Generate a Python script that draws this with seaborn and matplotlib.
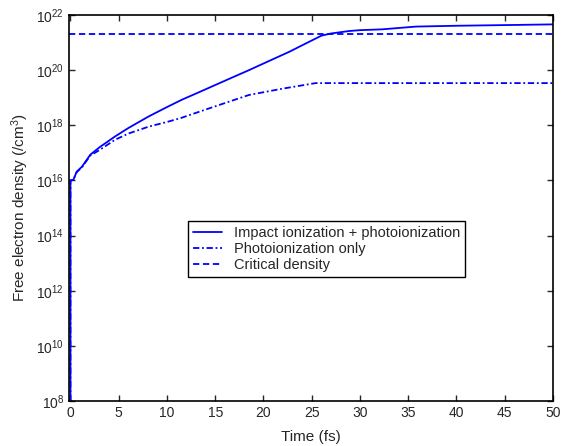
import numpy as np
import pandas as pd
import seaborn as sns
import matplotlib.pyplot as plt

# time (fs) and log10 of free electron density (/cm^3)
t_impact = [0, 0, 0.3, 0.65, 1.2, 2.05, 3, 4.6, 6, 8.1, 10, 11.5, 13, 15, 17,
            18.5, 20, 22.7, 24, 26, 27, 28.9, 30, 32.3, 35.8, 40, 46.2, 50]
log_impact = [8, 16, 16.02, 16.32, 16.5, 16.93, 17.2, 17.59, 17.9, 18.32, 18.66,
              18.92, 19.15, 19.46, 19.77, 20.0, 20.24, 20.67, 20.9, 21.25, 21.33,
              21.42, 21.45, 21.48, 21.58, 21.61, 21.64, 21.66]

t_photo = [0, 0, 0.3, 0.65, 1.2, 2.05, 3, 4.6, 6, 8.1, 10, 11.5, 14, 18.5, 22,
           25.4, 50]
log_photo = [8, 16, 16.02, 16.3, 16.48, 16.9, 17.1, 17.47, 17.7, 17.95, 18.12,
             18.27, 18.57, 19.1, 19.33, 19.53, 19.53]

t_crit = [-0.2, 50]
log_crit = [21.31, 21.31]

df_impact = pd.DataFrame({'t': t_impact, 'n': 10.0 ** np.array(log_impact)})
df_photo = pd.DataFrame({'t': t_photo, 'n': 10.0 ** np.array(log_photo)})
df_crit = pd.DataFrame({'t': t_crit, 'n': 10.0 ** np.array(log_crit)})

sns.set_style('ticks')
plt.rcParams['font.family'] = ['Liberation Sans', 'DejaVu Sans']
plt.rcParams['mathtext.fontset'] = 'custom'
plt.rcParams['mathtext.rm'] = 'Liberation Sans'
plt.rcParams['mathtext.it'] = 'Liberation Sans:italic'

fig = plt.figure(figsize=(5.61, 4.46), dpi=100)
ax = fig.add_axes([69 / 561, 1 - 401 / 446, 484 / 561, 386 / 446])

blue = '#0000ff'
dashdot = [3.5, 1.5, 1, 1.5]
dashed = [3.5, 2]
sns.lineplot(data=df_impact, x='t', y='n', ax=ax, color=blue, lw=1.3,
             label='Impact ionization + photoionization', estimator=None, sort=False)
sns.lineplot(data=df_photo, x='t', y='n', ax=ax, color=blue, lw=1.3,
             label='Photoionization only', estimator=None, sort=False)
ax.lines[-1].set_dashes(dashdot)
sns.lineplot(data=df_crit, x='t', y='n', ax=ax, color=blue, lw=1.3,
             label='Critical density', estimator=None, sort=False)
ax.lines[-1].set_dashes(dashed)

ax.set_yscale('log')
ax.set_xlim(-0.15, 50)
ax.set_ylim(1e8, 1e22)
ax.set_xticks(range(0, 51, 5))
ax.set_yticks([10.0 ** k for k in range(8, 23, 2)])
ax.set_yticklabels([r'$10^{%d}$' % k for k in range(8, 23, 2)])
ax.yaxis.set_minor_locator(plt.NullLocator())
ax.tick_params(direction='in', top=True, right=True, labelsize=10, width=1, length=4)
for s in ax.spines.values():
    s.set_linewidth(1.2)
    s.set_color('black')

ax.set_xlabel('Time (fs)', fontsize=11, labelpad=7)
ax.set_ylabel('Free electron density (/cm$^3$)', fontsize=11, labelpad=4)

leg = ax.legend(loc='lower left', bbox_to_anchor=(0.245, 0.321), fontsize=10.5,
                frameon=True, fancybox=False, edgecolor='black', framealpha=1,
                handlelength=2.0, borderpad=0.35, labelspacing=0.15,
                borderaxespad=0)
leg.get_frame().set_linewidth(1.0)
for h in leg.get_lines():
    h.set_linewidth(1.3)
leg.get_lines()[1].set_dashes(dashdot)
leg.get_lines()[2].set_dashes(dashed)

fig.savefig('out.png', dpi=100)
